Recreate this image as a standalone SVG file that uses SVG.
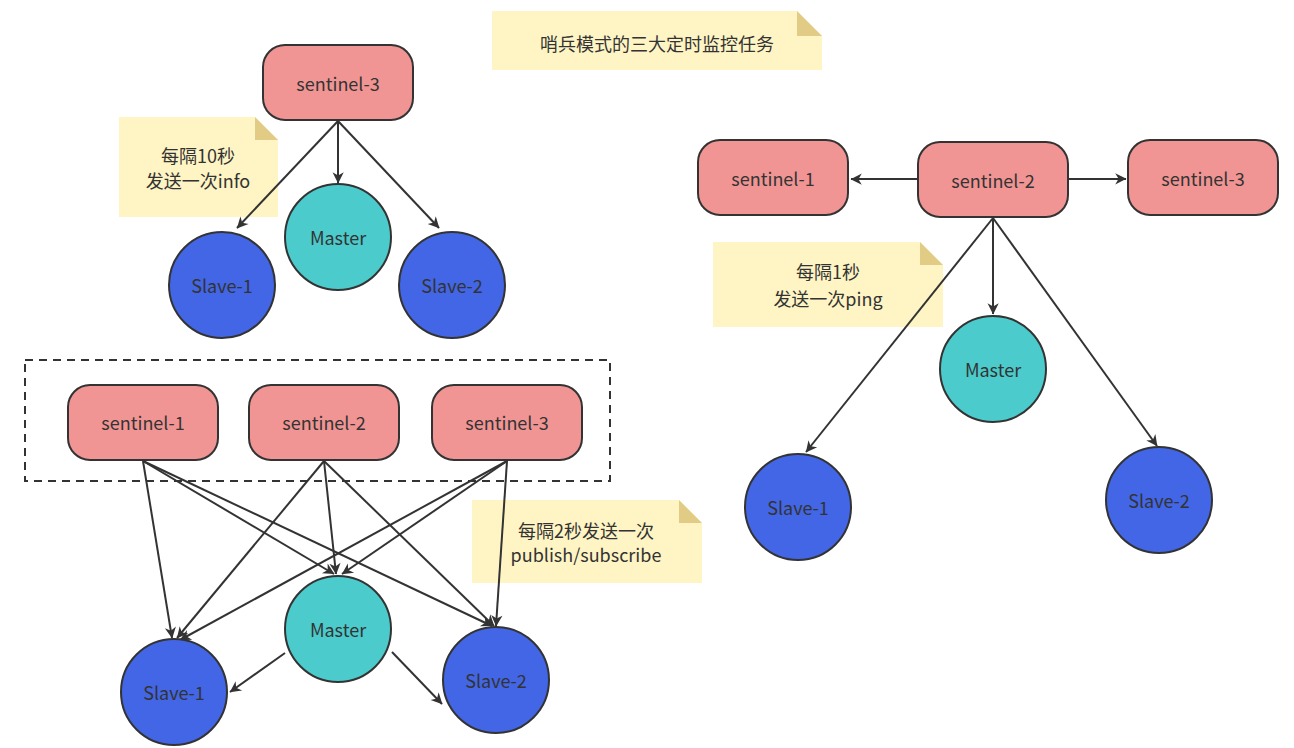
<svg xmlns="http://www.w3.org/2000/svg" width="1294" height="748" viewBox="0 0 1294 748">
<style>
text{font-family:"Noto Sans CJK SC","Liberation Sans",sans-serif;font-size:18px;fill:#333;text-anchor:middle;dominant-baseline:central}
.s{fill:#f19594;stroke:#333;stroke-width:2}
.m{fill:#4bcbcc;stroke:#333;stroke-width:2}
.v{fill:#4266e5;stroke:#333;stroke-width:2}
.n{fill:#fff5c4}
.f{fill:#e2cb84}
.c line{stroke:#333;stroke-width:2;marker-end:url(#a)}
</style>
<defs><marker id="a" viewBox="0 0 10 10" refX="9" refY="5" markerWidth="7" markerHeight="7" orient="auto" markerUnits="userSpaceOnUse" style="overflow:visible"><path d="M0,0L10,5L0,10L3,5z" fill="#333" transform="scale(1.6) translate(-4,-2)"/></marker></defs>
<g id="title"><path class="n" d="M492,11H797L822,36V70H492z"/><path class="f" d="M797,11L822,36H797z"/><text x="657" y="43">哨兵模式的三大定时监控任务</text></g>
<g id="note1"><path class="n" d="M119,117H255L278,140V217H119z"/><path class="f" d="M255,117L278,140H255z"/><text x="198" y="155">每隔10秒</text><text x="198" y="180">发送一次info</text></g>
<g id="note2"><path class="n" d="M713,242H920L943,265V327H713z"/><path class="f" d="M920,242L943,265H920z"/><text x="828" y="271">每隔1秒</text><text x="828" y="298">发送一次ping</text></g>
<g id="note3"><path class="n" d="M472,500H679L702,523V583H472z"/><path class="f" d="M679,500L702,523H679z"/><text x="586" y="530">每隔2秒发送一次</text><text x="586" y="554">publish/subscribe</text></g>
<rect id="group" x="25" y="360" width="585" height="121" fill="none" stroke="#333" stroke-width="2" stroke-dasharray="8,6"/>
<g class="c" id="connectors">
<line x1="338" y1="121" x2="338" y2="183"/><line x1="338" y1="121" x2="237" y2="228"/><line x1="338" y1="121" x2="439" y2="228"/>
<line x1="918" y1="179" x2="851" y2="179"/><line x1="1068" y1="179" x2="1126" y2="179"/>
<line x1="993" y1="218" x2="993" y2="314"/><line x1="993" y1="218" x2="806" y2="452"/><line x1="993" y1="218" x2="1157" y2="446"/>
<line x1="143" y1="461" x2="172" y2="638"/><line x1="143" y1="461" x2="334" y2="574"/><line x1="143" y1="461" x2="492" y2="626"/>
<line x1="324" y1="461" x2="177" y2="638"/><line x1="324" y1="461" x2="336" y2="574"/><line x1="324" y1="461" x2="494" y2="626"/>
<line x1="507" y1="461" x2="180" y2="640"/><line x1="507" y1="461" x2="342" y2="574"/><line x1="507" y1="461" x2="496" y2="626"/>
<line x1="285" y1="653" x2="230" y2="692"/><line x1="392" y1="652" x2="442" y2="704"/>
</g>
<g id="tl-sentinel-3"><rect class="s" x="263" y="45" width="150" height="75" rx="22"/><text x="338" y="83">sentinel-3</text></g>
<g id="tl-master"><circle class="m" cx="338" cy="237" r="53"/><text x="338" y="237">Master</text></g>
<g id="tl-slave-1"><circle class="v" cx="222" cy="285" r="53"/><text x="222" y="285">Slave-1</text></g>
<g id="tl-slave-2"><circle class="v" cx="452" cy="285" r="53"/><text x="452" y="285">Slave-2</text></g>
<g id="r-sentinel-1"><rect class="s" x="698" y="140" width="150" height="75" rx="22"/><text x="773" y="178">sentinel-1</text></g>
<g id="r-sentinel-2"><rect class="s" x="918" y="142" width="150" height="75" rx="22"/><text x="993" y="180">sentinel-2</text></g>
<g id="r-sentinel-3"><rect class="s" x="1128" y="140" width="150" height="75" rx="22"/><text x="1203" y="178">sentinel-3</text></g>
<g id="r-master"><circle class="m" cx="993" cy="369" r="53"/><text x="993" y="369">Master</text></g>
<g id="r-slave-1"><circle class="v" cx="798" cy="507" r="53"/><text x="798" y="507">Slave-1</text></g>
<g id="r-slave-2"><circle class="v" cx="1159" cy="500" r="53"/><text x="1159" y="500">Slave-2</text></g>
<g id="b-sentinel-1"><rect class="s" x="68" y="385" width="150" height="75" rx="22"/><text x="143" y="422">sentinel-1</text></g>
<g id="b-sentinel-2"><rect class="s" x="249" y="385" width="150" height="75" rx="22"/><text x="324" y="422">sentinel-2</text></g>
<g id="b-sentinel-3"><rect class="s" x="432" y="385" width="150" height="75" rx="22"/><text x="507" y="422">sentinel-3</text></g>
<g id="b-master"><circle class="m" cx="338" cy="629" r="53"/><text x="338" y="629">Master</text></g>
<g id="b-slave-1"><circle class="v" cx="174" cy="692" r="53"/><text x="174" y="692">Slave-1</text></g>
<g id="b-slave-2"><circle class="v" cx="496" cy="680" r="53"/><text x="496" y="680">Slave-2</text></g>
</svg>
